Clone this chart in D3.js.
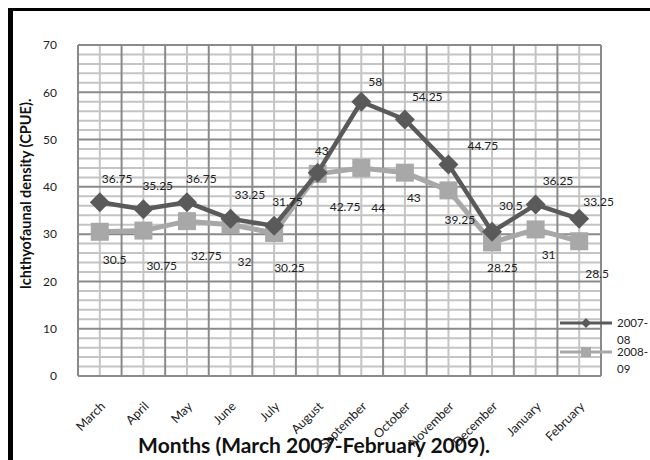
<!DOCTYPE html>
<html>
<head>
<meta charset="utf-8">
<script src="https://cdn.jsdelivr.net/npm/d3@7"></script>
<style>
  html, body { margin: 0; padding: 0; background: #fff; }
  svg { display: block; font-family: Lato, "Open Sans", sans-serif; }
</style>
</head>
<body>
<svg id="chart" width="650" height="460"></svg>
<script>
const months = ["March","April","May","June","July","August","September","October","November","December","January","February"];
const series2007 = [36.75, 35.25, 36.75, 33.25, 31.75, 43, 58, 54.25, 44.75, 30.5, 36.25, 33.25];
const series2008 = [30.5, 30.75, 32.75, 32, 30.25, 42.75, 44, 43, 39.25, 28.25, 31, 28.5];
const seriesNames = ["2007-08", "2008-09"];
const yTicks = [0, 10, 20, 30, 40, 50, 60, 70];
const yTitle = "Ichthyofaunal density (CPUE).";
const xTitle = "Months (March 2007-February 2009).";

// label placement nudges (layout only, pixels relative to each point)
const labelDx1 = [2, -1, -1, 4, -2, -3, 7, 7, 19, 7, 7, 4];
const labelDy1 = [-23, -24, -23, -24, -24, -22, -20, -23, -19, -26, -24, -17];
const labelDx2 = [3, 3, 4, 7, 0, 12, 10, 2, -4, -5, 6, 6];
const labelDy2 = [28, 35, 35, 37, 35, 33, 40, 25, 29, 25, 25, 33];

const svg = d3.select("#chart");
const L = 78, R = 601, T = 45, B = 376;
const x = d3.scaleBand().domain(months).range([L, R]).padding(0);
const y = d3.scaleLinear().domain([0, 70]).range([B, T]);
const cx = m => x(m) + x.bandwidth() / 2;

const minorC = "#c4c4c4", majorC = "#8a8a8a";
const grid = svg.append("g");
grid.selectAll(".hmin").data(d3.range(0, 71, 2).filter(v => v % 10 !== 0)).join("line")
  .attr("x1", L).attr("x2", R).attr("y1", d => y(d)).attr("y2", d => y(d))
  .attr("stroke", minorC).attr("stroke-width", 2);
grid.selectAll(".vmin").data(months).join("line")
  .attr("x1", d => cx(d)).attr("x2", d => cx(d)).attr("y1", T).attr("y2", B)
  .attr("stroke", minorC).attr("stroke-width", 2);
grid.selectAll(".hmaj").data(yTicks).join("line")
  .attr("x1", L).attr("x2", R).attr("y1", d => y(d)).attr("y2", d => y(d))
  .attr("stroke", majorC).attr("stroke-width", 2);
grid.selectAll(".vmaj").data(months.map(m => x(m)).concat([R])).join("line")
  .attr("x1", d => d).attr("x2", d => d).attr("y1", T).attr("y2", B)
  .attr("stroke", majorC).attr("stroke-width", 2);

// y axis
const yAxis = svg.append("g").attr("transform", `translate(${L},0)`)
  .call(d3.axisLeft(y).tickValues(yTicks).tickSize(0).tickPadding(21));
yAxis.select(".domain").remove();
yAxis.selectAll("text").attr("font-family", "Lato, sans-serif").attr("font-size", 12).attr("fill", "#222");

// x axis
const xAxis = svg.append("g").attr("transform", `translate(0,${B})`)
  .call(d3.axisBottom(x).tickSize(0));
xAxis.select(".domain").remove();
xAxis.selectAll("text")
  .attr("font-family", "Lato, sans-serif").attr("font-size", 12.5).attr("fill", "#222")
  .attr("text-anchor", "end").attr("x", 0).attr("y", 0).attr("dy", "0.35em")
  .attr("transform", "translate(3,28) rotate(-45)");

const line = d3.line().x((d, i) => cx(months[i])).y(d => y(d));
const c1 = "#5a5a5a", c2 = "#a8a8a8";

svg.append("path").datum(series2008).attr("d", line).attr("fill", "none")
  .attr("stroke", c2).attr("stroke-width", 5).attr("stroke-linejoin", "round");
svg.selectAll(".sq").data(series2008).join("rect")
  .attr("x", (d, i) => cx(months[i]) - 9).attr("y", d => y(d) - 9)
  .attr("width", 18).attr("height", 18).attr("fill", c2);

svg.append("path").datum(series2007).attr("d", line).attr("fill", "none")
  .attr("stroke", c1).attr("stroke-width", 4.5).attr("stroke-linejoin", "round");
svg.selectAll(".dm").data(series2007).join("path")
  .attr("d", d3.symbol().type(d3.symbolSquare).size(200))
  .attr("transform", (d, i) => `translate(${cx(months[i])},${y(d)}) rotate(45)`)
  .attr("fill", c1);

// data labels
svg.selectAll(".l1").data(series2007).join("text")
  .attr("x", (d, i) => cx(months[i]) + labelDx1[i]).attr("y", (d, i) => y(d) + labelDy1[i])
  .attr("dy", "0.35em").attr("font-size", 12).attr("fill", "#222")
  .text(d => d);
svg.selectAll(".l2").data(series2008).join("text")
  .attr("x", (d, i) => cx(months[i]) + labelDx2[i]).attr("y", (d, i) => y(d) + labelDy2[i])
  .attr("dy", "0.35em").attr("font-size", 12).attr("fill", "#222")
  .text(d => d);

// legend
const leg = svg.append("g");
const legY = [323, 352];
leg.append("line").attr("x1", 560).attr("x2", 612).attr("y1", legY[0]).attr("y2", legY[0])
  .attr("stroke", c1).attr("stroke-width", 3);
leg.append("path").attr("d", d3.symbol().type(d3.symbolSquare).size(50))
  .attr("transform", `translate(586,${legY[0]}) rotate(45)`).attr("fill", c1);
leg.append("line").attr("x1", 560).attr("x2", 612).attr("y1", legY[1]).attr("y2", legY[1])
  .attr("stroke", c2).attr("stroke-width", 3);
leg.append("rect").attr("x", 581).attr("y", legY[1] - 5).attr("width", 10).attr("height", 10).attr("fill", c2);
seriesNames.forEach((n, i) => {
  const parts = [n.slice(0, 5), n.slice(5)];
  const t = leg.append("text").attr("x", 617).attr("y", legY[i]).attr("dy", "0.35em")
    .attr("font-size", 11.5).attr("fill", "#222");
  t.append("tspan").attr("x", 617).text(parts[0]);
  t.append("tspan").attr("x", 617).attr("dy", 17).text(parts[1]);
});

// titles
svg.append("text").attr("transform", `translate(31,194) rotate(-90)`)
  .attr("text-anchor", "middle").attr("font-weight", "bold").attr("font-size", 14.5)
  .attr("fill", "#111").text(yTitle);
svg.append("text").attr("x", 314).attr("y", 453)
  .attr("text-anchor", "middle").attr("font-weight", "bold").attr("font-size", 21)
  .attr("fill", "#111").text(xTitle);

// frame
svg.append("line").attr("x1", 8).attr("x2", 650).attr("y1", 9.5).attr("y2", 9.5)
  .attr("stroke", "#000").attr("stroke-width", 3);
svg.append("line").attr("x1", 10.5).attr("x2", 10.5).attr("y1", 8).attr("y2", 460)
  .attr("stroke", "#000").attr("stroke-width", 5);
</script>
</body>
</html>
